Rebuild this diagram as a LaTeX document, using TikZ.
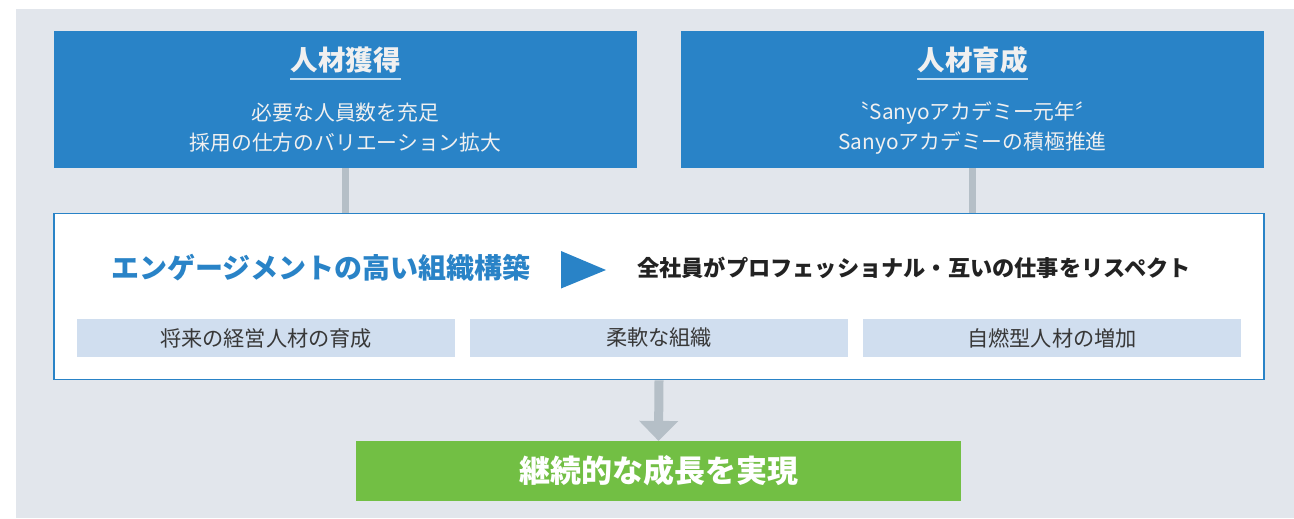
\documentclass[tikz,border=0pt]{standalone}
\usepackage{fontspec}
\setmainfont{Noto Sans CJK JP}
\usetikzlibrary{arrows.meta}
\definecolor{bggray}{HTML}{E2E6EC}
\definecolor{mblue}{HTML}{2983C7}
\definecolor{mgreen}{HTML}{72BF44}
\definecolor{subblue}{HTML}{D0DEEF}
\definecolor{conngray}{HTML}{B5BFC7}
\definecolor{darktext}{HTML}{222222}
\definecolor{undl}{HTML}{BFDCF2}
\newcommand{\fpx}[1]{\fontsize{\fpeval{#1*0.75}pt}{\fpeval{#1*0.75*1.2}pt}\selectfont}
\tikzset{
  topbox/.style={fill=mblue, draw=none, minimum width=437.25pt, minimum height=102.75pt, inner sep=0pt},
  ttl/.style={text=white!94!black, font=\fpx{27.5}\bfseries, inner sep=0pt},
  subtxt/.style={text=white!94!black, font=\fpx{20.8}, align=center, inner sep=0pt},
  engbox/.style={fill=white, draw=mblue, line width=1.2pt, minimum width=907.5pt, minimum height=124.5pt, inner sep=0pt},
  smallbox/.style={fill=subblue, draw=none, minimum width=283.5pt, minimum height=28.5pt, inner sep=0pt, text=darktext!90!white, font=\fpx{21.2}},
  goalbox/.style={fill=mgreen, draw=none, minimum width=453.75pt, minimum height=45pt, inner sep=0pt, text=white, font=\fpx{31}\bfseries},
  conn/.style={draw=conngray, line width=5.25pt},
  downarrow/.style={draw=conngray, line width=6.75pt, -{Triangle[width=28.5pt,length=15pt]}, shorten >=-0.5pt},
}
\begin{document}
\begin{tikzpicture}[x=0.75pt,y=-0.75pt]
\useasboundingbox (0,0) rectangle (1294,518);
\fill[bggray] (16,9) rectangle (1294,518);

% top boxes
\node[topbox] (acq) at (345.5,99.5) {};
\node[topbox] (dev) at (972.5,99.5) {};
\node[ttl] (acqT) at (345.5,60) {人材獲得};
\node[ttl] (devT) at (972.5,60) {人材育成};
\draw[undl, line width=1.1pt] (acqT.west |- 0,79) -- (acqT.east |- 0,79);
\draw[undl, line width=1.1pt] (devT.west |- 0,79) -- (devT.east |- 0,79);
\node[subtxt] (acqS1) at (345.5,113) {必要な人員数を充足};
\node[subtxt] (acqS2) at (345.5,143) {採用の仕方のバリエーション拡大};
\node[subtxt] (devS1) at (972.5,113) {〝Sanyoアカデミー元年〞};
\node[subtxt] (devS2) at (972.5,143) {Sanyoアカデミーの積極推進};

% engagement box
\node[engbox] (eng) at (659,296.5) {};
\draw[conn] (acq.south) -- (acq.south |- eng.north);
\draw[conn] (dev.south) -- (dev.south |- eng.north);

\node[text=mblue, font=\fpx{28}\bfseries, inner sep=0pt] (engT) at (321,268) {エンゲージメントの高い組織構築};
\fill[mblue] (561,251) -- (606,270) -- (561,288.5) -- cycle;
\node[text=darktext, font=\fpx{22.2}\bfseries, anchor=west, inner sep=0pt] (resp) at (637,268) {全社員がプロフェッショナル・互いの仕事をリスペクト};

\node[smallbox] (s1) at (266,338) {将来の経営人材の育成};
\node[smallbox] (s2) at (659,338) {柔軟な組織};
\node[smallbox] (s3) at (1052,338) {自燃型人材の増加};

% goal
\node[goalbox] (goal) at (658.5,470.5) {継続的な成長を実現};
\draw[downarrow] (eng.south) -- (goal.north);
\end{tikzpicture}
\end{document}
